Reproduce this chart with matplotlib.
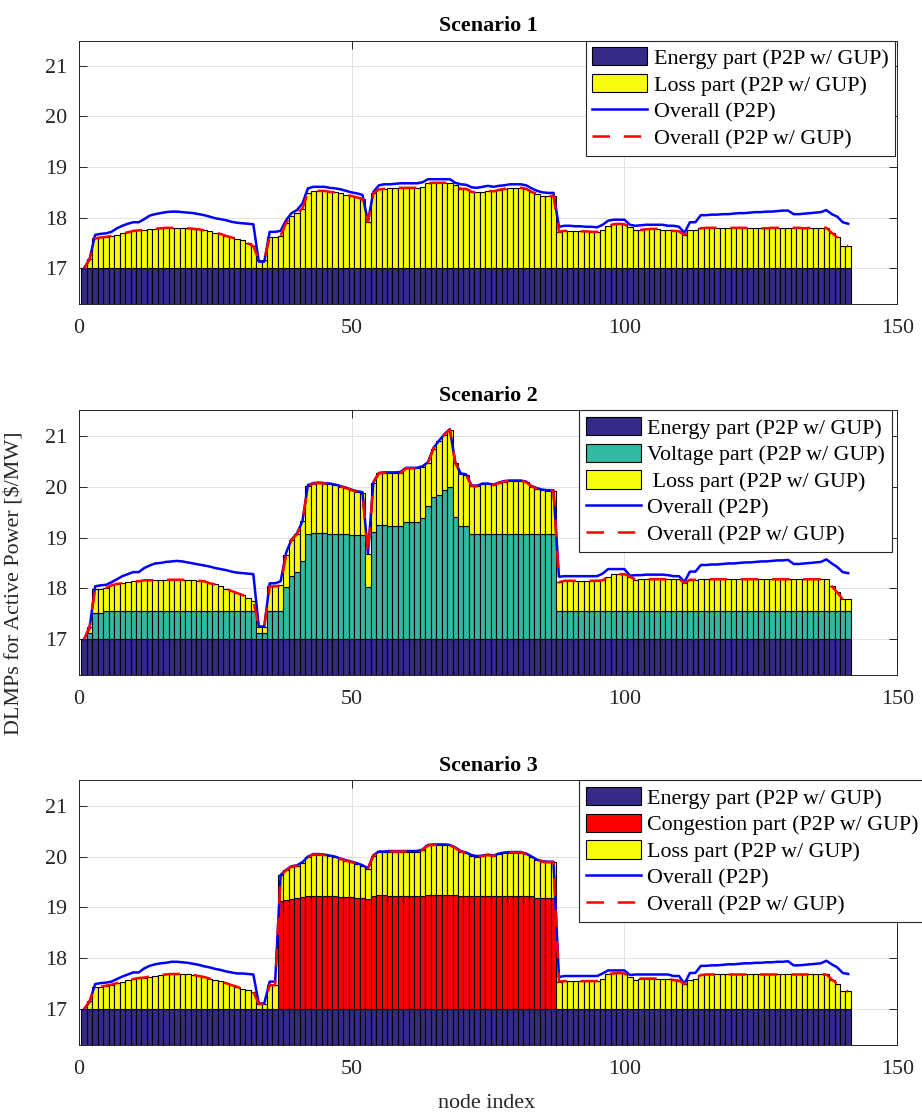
import numpy as np
import matplotlib
matplotlib.use("Agg")
import matplotlib.pyplot as plt
from matplotlib.patches import Patch
from matplotlib.lines import Line2D

# ---------------- data ----------------
nodes = list(range(1, 142))
energy_price = 17.0

s1_loss = [0.00, 0.18, 0.59, 0.61, 0.62, 0.64, 0.66, 0.69, 0.71, 0.74,
           0.75, 0.76, 0.77, 0.78, 0.79, 0.80, 0.80, 0.80, 0.80, 0.79,
           0.78, 0.77, 0.75, 0.73, 0.70, 0.68, 0.64, 0.61, 0.58, 0.55,
           0.49, 0.44, 0.16, 0.16, 0.62, 0.62, 0.64, 0.90, 1.03, 1.09,
           1.18, 1.49, 1.53, 1.53, 1.53, 1.51, 1.50, 1.48, 1.45, 1.43,
           1.40, 1.37, 0.92, 1.48, 1.56, 1.57, 1.59, 1.59, 1.59, 1.59,
           1.59, 1.59, 1.61, 1.68, 1.69, 1.69, 1.69, 1.69, 1.64, 1.57,
           1.57, 1.51, 1.50, 1.51, 1.53, 1.52, 1.55, 1.57, 1.58, 1.59,
           1.59, 1.57, 1.51, 1.47, 1.43, 1.43, 1.43, 0.72, 0.74, 0.74,
           0.73, 0.73, 0.73, 0.72, 0.72, 0.76, 0.84, 0.87, 0.88, 0.87,
           0.81, 0.76, 0.76, 0.77, 0.78, 0.78, 0.76, 0.75, 0.74, 0.73,
           0.66, 0.76, 0.76, 0.79, 0.80, 0.80, 0.80, 0.80, 0.80, 0.80,
           0.80, 0.80, 0.79, 0.79, 0.79, 0.79, 0.80, 0.80, 0.80, 0.80,
           0.80, 0.80, 0.79, 0.80, 0.80, 0.80, 0.80, 0.70, 0.61, 0.44,
           0.44]
s1_p2p = [17.00, 17.18, 17.66, 17.68, 17.69, 17.72, 17.79, 17.84, 17.88, 17.91,
          17.91, 17.97, 18.04, 18.07, 18.09, 18.11, 18.12, 18.12, 18.11, 18.10,
          18.09, 18.07, 18.05, 18.02, 17.99, 17.97, 17.95, 17.92, 17.90, 17.89,
          17.88, 17.87, 17.13, 17.13, 17.72, 17.72, 17.74, 17.95, 18.09, 18.15,
          18.28, 18.58, 18.61, 18.61, 18.61, 18.59, 18.58, 18.56, 18.53, 18.50,
          18.48, 18.45, 17.92, 18.51, 18.64, 18.66, 18.66, 18.67, 18.68, 18.68,
          18.68, 18.68, 18.70, 18.76, 18.76, 18.76, 18.76, 18.76, 18.69, 18.66,
          18.65, 18.60, 18.59, 18.61, 18.63, 18.61, 18.63, 18.64, 18.66, 18.66,
          18.66, 18.64, 18.58, 18.53, 18.50, 18.49, 18.49, 17.82, 17.84, 17.84,
          17.83, 17.83, 17.82, 17.82, 17.81, 17.86, 17.94, 17.96, 17.96, 17.96,
          17.86, 17.84, 17.85, 17.86, 17.86, 17.86, 17.86, 17.84, 17.84, 17.82,
          17.70, 17.91, 17.91, 18.05, 18.05, 18.06, 18.06, 18.07, 18.07, 18.08,
          18.09, 18.09, 18.10, 18.11, 18.11, 18.12, 18.12, 18.13, 18.14, 18.14,
          18.07, 18.07, 18.08, 18.09, 18.10, 18.11, 18.15, 18.07, 18.02, 17.91,
          17.88]

s2_volt = [0.00, 0.12, 0.51, 0.51, 0.55, 0.55, 0.55, 0.55, 0.55, 0.55,
           0.55, 0.55, 0.55, 0.55, 0.55, 0.55, 0.55, 0.55, 0.55, 0.55,
           0.55, 0.55, 0.55, 0.55, 0.55, 0.55, 0.55, 0.55, 0.55, 0.55,
           0.55, 0.55, 0.12, 0.12, 0.55, 0.55, 0.55, 1.03, 1.25, 1.32,
           1.53, 2.07, 2.08, 2.08, 2.08, 2.07, 2.07, 2.06, 2.06, 2.05,
           2.05, 2.05, 1.03, 2.11, 2.24, 2.24, 2.23, 2.23, 2.23, 2.31,
           2.31, 2.31, 2.38, 2.62, 2.79, 2.84, 2.94, 3.00, 2.40, 2.23,
           2.23, 2.06, 2.06, 2.06, 2.06, 2.06, 2.06, 2.06, 2.06, 2.06,
           2.06, 2.06, 2.06, 2.06, 2.06, 2.06, 2.06, 0.56, 0.56, 0.56,
           0.56, 0.56, 0.56, 0.56, 0.56, 0.56, 0.56, 0.56, 0.56, 0.56,
           0.56, 0.56, 0.56, 0.56, 0.56, 0.56, 0.56, 0.56, 0.56, 0.56,
           0.56, 0.56, 0.56, 0.56, 0.56, 0.56, 0.56, 0.56, 0.56, 0.56,
           0.56, 0.56, 0.56, 0.56, 0.56, 0.56, 0.56, 0.56, 0.56, 0.56,
           0.56, 0.56, 0.56, 0.56, 0.56, 0.56, 0.56, 0.56, 0.56, 0.56,
           0.56]
s2_loss = [0.00, 0.13, 0.48, 0.48, 0.46, 0.51, 0.54, 0.55, 0.57, 0.59,
           0.59, 0.61, 0.61, 0.61, 0.62, 0.62, 0.62, 0.62, 0.62, 0.61,
           0.61, 0.60, 0.59, 0.55, 0.53, 0.49, 0.44, 0.40, 0.36, 0.32,
           0.27, 0.21, 0.12, 0.12, 0.49, 0.49, 0.51, 0.63, 0.71, 0.74,
           0.79, 0.94, 0.98, 0.99, 0.98, 0.98, 0.96, 0.94, 0.91, 0.88,
           0.85, 0.83, 0.65, 0.97, 1.02, 1.03, 1.03, 1.03, 1.04, 1.05,
           1.05, 1.05, 1.01, 0.84, 0.95, 1.05, 1.08, 1.12, 1.07, 1.02,
           1.00, 0.95, 0.95, 0.99, 0.99, 0.97, 1.01, 1.04, 1.05, 1.05,
           1.05, 1.03, 0.94, 0.90, 0.87, 0.86, 0.86, 0.56, 0.59, 0.59,
           0.59, 0.59, 0.59, 0.59, 0.59, 0.60, 0.67, 0.72, 0.72, 0.72,
           0.67, 0.61, 0.62, 0.62, 0.62, 0.62, 0.62, 0.62, 0.62, 0.62,
           0.55, 0.61, 0.61, 0.62, 0.62, 0.62, 0.62, 0.62, 0.62, 0.62,
           0.62, 0.62, 0.62, 0.62, 0.62, 0.62, 0.62, 0.62, 0.62, 0.62,
           0.62, 0.62, 0.62, 0.62, 0.62, 0.62, 0.62, 0.48, 0.36, 0.23,
           0.23]
s2_p2p = [17.00, 17.22, 18.04, 18.06, 18.07, 18.12, 18.18, 18.24, 18.28, 18.32,
          18.32, 18.40, 18.45, 18.49, 18.50, 18.52, 18.53, 18.54, 18.53, 18.51,
          18.49, 18.47, 18.45, 18.43, 18.40, 18.38, 18.36, 18.33, 18.31, 18.30,
          18.29, 18.28, 17.25, 17.25, 18.10, 18.10, 18.14, 18.70, 18.96, 19.08,
          19.32, 20.03, 20.07, 20.08, 20.07, 20.06, 20.04, 20.01, 19.98, 19.94,
          19.91, 19.89, 18.69, 20.09, 20.27, 20.28, 20.28, 20.28, 20.29, 20.37,
          20.37, 20.37, 20.40, 20.48, 20.76, 20.90, 21.03, 21.13, 20.48, 20.26,
          20.24, 20.02, 20.02, 20.06, 20.06, 20.04, 20.08, 20.11, 20.12, 20.12,
          20.12, 20.10, 20.01, 19.97, 19.94, 19.93, 19.93, 18.23, 18.24, 18.24,
          18.24, 18.24, 18.24, 18.24, 18.24, 18.29, 18.38, 18.38, 18.38, 18.38,
          18.25, 18.26, 18.26, 18.27, 18.27, 18.27, 18.27, 18.26, 18.24, 18.24,
          18.13, 18.33, 18.33, 18.46, 18.46, 18.47, 18.47, 18.48, 18.49, 18.49,
          18.50, 18.51, 18.51, 18.52, 18.53, 18.53, 18.54, 18.55, 18.55, 18.56,
          18.48, 18.48, 18.49, 18.50, 18.51, 18.52, 18.57, 18.49, 18.42, 18.32,
          18.30]

s3_cong = [0.00, 0.00, 0.00, 0.00, 0.00, 0.00, 0.00, 0.00, 0.00, 0.00,
           0.00, 0.00, 0.00, 0.00, 0.00, 0.00, 0.00, 0.00, 0.00, 0.00,
           0.00, 0.00, 0.00, 0.00, 0.00, 0.00, 0.00, 0.00, 0.00, 0.00,
           0.00, 0.00, 0.00, 0.00, 0.00, 0.00, 2.12, 2.15, 2.16, 2.18,
           2.20, 2.22, 2.22, 2.22, 2.22, 2.22, 2.22, 2.21, 2.20, 2.20,
           2.19, 2.18, 2.16, 2.23, 2.24, 2.24, 2.23, 2.23, 2.23, 2.23,
           2.23, 2.23, 2.23, 2.25, 2.25, 2.25, 2.25, 2.25, 2.24, 2.22,
           2.22, 2.22, 2.22, 2.22, 2.22, 2.22, 2.22, 2.22, 2.22, 2.22,
           2.22, 2.22, 2.22, 2.19, 2.19, 2.19, 2.19, 0.00, 0.00, 0.00,
           0.00, 0.00, 0.00, 0.00, 0.00, 0.00, 0.00, 0.00, 0.00, 0.00,
           0.00, 0.00, 0.00, 0.00, 0.00, 0.00, 0.00, 0.00, 0.00, 0.00,
           0.00, 0.00, 0.00, 0.00, 0.00, 0.00, 0.00, 0.00, 0.00, 0.00,
           0.00, 0.00, 0.00, 0.00, 0.00, 0.00, 0.00, 0.00, 0.00, 0.00,
           0.00, 0.00, 0.00, 0.00, 0.00, 0.00, 0.00, 0.00, 0.00, 0.00,
           0.00]
s3_loss = [0.00, 0.16, 0.44, 0.44, 0.46, 0.48, 0.51, 0.54, 0.57, 0.59,
           0.61, 0.62, 0.64, 0.65, 0.67, 0.68, 0.69, 0.69, 0.69, 0.68,
           0.67, 0.65, 0.63, 0.60, 0.57, 0.55, 0.51, 0.47, 0.44, 0.39,
           0.37, 0.34, 0.10, 0.10, 0.47, 0.47, 0.51, 0.58, 0.64, 0.64,
           0.68, 0.77, 0.82, 0.82, 0.81, 0.79, 0.77, 0.74, 0.72, 0.69,
           0.67, 0.64, 0.60, 0.79, 0.85, 0.85, 0.87, 0.87, 0.87, 0.87,
           0.87, 0.87, 0.90, 0.97, 0.98, 0.98, 0.98, 0.97, 0.93, 0.88,
           0.85, 0.80, 0.78, 0.79, 0.81, 0.79, 0.83, 0.85, 0.86, 0.86,
           0.86, 0.83, 0.77, 0.74, 0.71, 0.70, 0.70, 0.54, 0.55, 0.55,
           0.55, 0.55, 0.55, 0.55, 0.55, 0.60, 0.69, 0.70, 0.71, 0.70,
           0.63, 0.58, 0.60, 0.60, 0.60, 0.60, 0.60, 0.60, 0.57, 0.56,
           0.49, 0.58, 0.60, 0.67, 0.68, 0.68, 0.68, 0.68, 0.68, 0.68,
           0.68, 0.68, 0.68, 0.68, 0.68, 0.68, 0.68, 0.68, 0.68, 0.68,
           0.68, 0.68, 0.68, 0.68, 0.68, 0.68, 0.68, 0.58, 0.50, 0.35,
           0.35]
s3_p2p = [17.00, 17.14, 17.49, 17.51, 17.52, 17.54, 17.59, 17.64, 17.68, 17.72,
          17.72, 17.80, 17.85, 17.88, 17.90, 17.91, 17.93, 17.93, 17.92, 17.91,
          17.89, 17.87, 17.84, 17.82, 17.79, 17.77, 17.74, 17.72, 17.70, 17.70,
          17.69, 17.68, 17.11, 17.11, 17.54, 17.54, 19.64, 19.74, 19.81, 19.83,
          19.89, 20.00, 20.05, 20.05, 20.04, 20.02, 20.00, 19.96, 19.93, 19.90,
          19.87, 19.83, 19.77, 20.03, 20.10, 20.10, 20.11, 20.11, 20.11, 20.11,
          20.11, 20.11, 20.14, 20.23, 20.24, 20.24, 20.24, 20.23, 20.18, 20.11,
          20.08, 20.03, 20.01, 20.02, 20.04, 20.02, 20.06, 20.08, 20.09, 20.09,
          20.09, 20.06, 20.00, 19.94, 19.91, 19.90, 19.90, 17.63, 17.65, 17.65,
          17.65, 17.65, 17.65, 17.65, 17.65, 17.70, 17.76, 17.76, 17.76, 17.76,
          17.67, 17.68, 17.68, 17.68, 17.68, 17.68, 17.68, 17.68, 17.65, 17.65,
          17.50, 17.71, 17.71, 17.85, 17.85, 17.86, 17.86, 17.87, 17.88, 17.88,
          17.89, 17.90, 17.90, 17.91, 17.91, 17.92, 17.92, 17.93, 17.93, 17.94,
          17.86, 17.86, 17.87, 17.88, 17.89, 17.90, 17.95, 17.88, 17.82, 17.71,
          17.69]

titles = ["Scenario 1", "Scenario 2", "Scenario 3"]
x_ticks = [0, 50, 100, 150]
y_ticks = [17, 18, 19, 20, 21]

# ---------------- style ----------------
plt.rcParams['font.family'] = ['Liberation Serif', 'DejaVu Serif']
FS = 15.8
C_ENERGY = '#352A87'
C_VOLT = '#33B8A1'
C_LOSS = '#F9FB0E'
C_CONG = '#FF0000'
AXC = '#262626'
DASH = (7, 5.5)

W, H = 922, 1115
fig = plt.figure(figsize=(W / 100, H / 100), dpi=100)

def px_axes(left, top, right, bottom):
    return fig.add_axes([left / W, 1 - bottom / H, (right - left) / W, (bottom - top) / H])

axes_px = [(78.7, 40.6, 897.3, 303.7),
           (78.7, 410.3, 897.3, 674.9),
           (78.7, 780.4, 897.3, 1044.6)]
legend_left_px = [585.7, 579.3, 579.3]

x = np.array(nodes)
energy = np.full(len(nodes), energy_price)

scen_parts = [
    [("Loss part (P2P w/ GUP)", C_LOSS, s1_loss)],
    [("Voltage part (P2P w/ GUP)", C_VOLT, s2_volt),
     (" Loss part (P2P w/ GUP)", C_LOSS, s2_loss)],
    [("Congestion part (P2P w/ GUP)", C_CONG, s3_cong),
     ("Loss part (P2P w/ GUP)", C_LOSS, s3_loss)],
]
p2p_list = [s1_p2p, s2_p2p, s3_p2p]

for i in range(3):
    l, t, r, b = axes_px[i]
    ax = px_axes(l, t, r, b)
    bottom = energy.copy()
    ax.bar(x, energy, width=1.0, color=C_ENERGY, edgecolor='black', linewidth=0.8, zorder=2)
    handles = [Patch(facecolor=C_ENERGY, edgecolor='black', linewidth=0.8)]
    labels = ["Energy part (P2P w/ GUP)"]
    for lab, col, vals in scen_parts[i]:
        v = np.array(vals)
        ax.bar(x, v, width=1.0, bottom=bottom, color=col, edgecolor='black', linewidth=0.8, zorder=2)
        bottom = bottom + v
        handles.append(Patch(facecolor=col, edgecolor='black', linewidth=0.8))
        labels.append(lab)
    ax.plot(x, p2p_list[i], color='#0000FF', lw=1.8, zorder=3)
    ax.plot(x, bottom, color='#FF0000', lw=1.8, dashes=DASH, zorder=4)
    handles.append(Line2D([], [], color='#0000FF', lw=1.8))
    labels.append("Overall (P2P)")
    handles.append(Line2D([], [], color='#FF0000', lw=1.8, dashes=DASH))
    labels.append("Overall (P2P w/ GUP)")

    ax.set_xlim(0, 150)
    ax.set_ylim(16.3, 21.5)
    ax.set_xticks(x_ticks)
    ax.set_yticks(y_ticks)
    ax.grid(True, color='#e2e2e2', lw=0.7)
    ax.set_axisbelow(True)
    for sp in ax.spines.values():
        sp.set_color(AXC)
        sp.set_linewidth(0.7)
    ax.tick_params(direction='in', length=6, width=0.7, colors=AXC,
                   top=True, right=True, labelsize=FS)
    ax.tick_params(axis='x', pad=11)
    ax.tick_params(axis='y', pad=8)
    ax.set_title(titles[i], fontsize=FS, fontweight='bold', pad=7, color='black')

    lx = (legend_left_px[i] - l) / (r - l)
    leg = ax.legend(handles, labels, loc='upper left', bbox_to_anchor=(lx, 1.0),
                    borderaxespad=0, fontsize=FS, frameon=True, fancybox=False,
                    edgecolor=AXC, framealpha=1, borderpad=0.3, labelspacing=0.23,
                    handlelength=2.5, handleheight=0.9, handletextpad=0.3)
    leg.get_frame().set_linewidth(0.8)
    leg.set_zorder(10)

fig.text(487 / W, 1 - 1103 / H, "node index", ha='center', va='center', fontsize=FS, color=AXC)
fig.text(15 / W, 1 - 583 / H, r"DLMPs for Active Power [\$/MW]", ha='center', va='center',
         rotation=90, fontsize=FS, color=AXC)

fig.savefig("out.png", dpi=100)
